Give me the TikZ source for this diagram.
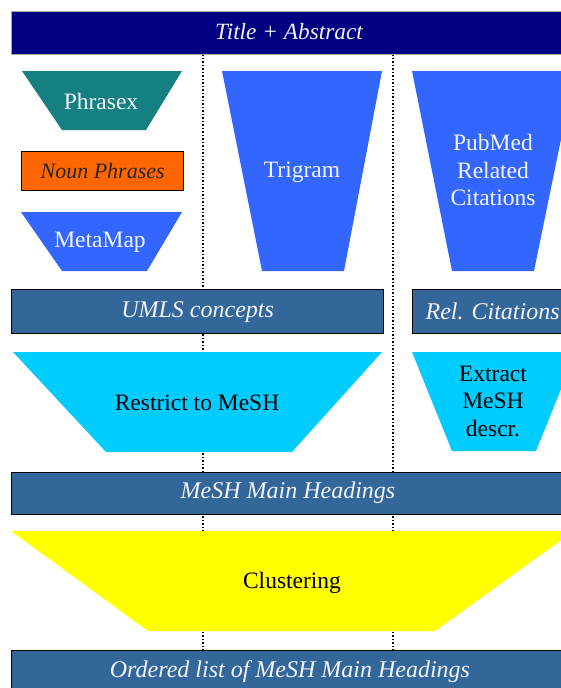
\documentclass[tikz,border=0pt]{standalone}
\usepackage{fontspec}
\setmainfont{Liberation Serif}
\newfontfamily\serifx{Liberation Serif}
\definecolor{navy}{HTML}{000080}
\definecolor{steel}{HTML}{336699}
\definecolor{tealx}{HTML}{168080}
\definecolor{orng}{HTML}{FF6600}
\definecolor{royal}{HTML}{3366FF}
\definecolor{sky}{HTML}{00CCFF}
\definecolor{yel}{HTML}{FFFF00}
\definecolor{paletext}{HTML}{F2F4FF}
\begin{document}
\begin{tikzpicture}[x=1pt,y=-1pt,
  bar/.style={draw=black, line width=1.3pt, fill=steel, text=paletext, inner sep=0pt,
    anchor=north west, font=\serifx\fontsize{24}{28}\selectfont\itshape},
  itl/.style={font=\serifx\fontsize{24}{28}\selectfont\itshape, text=paletext, inner sep=0pt},
  lbl/.style={font=\serifx\fontsize{23.5}{27.5}\selectfont, align=center, inner sep=0pt},
  sep/.style={line width=1.5pt, dotted, black}]
\clip (0,0) rectangle (561,688);
\fill[white] (0,0) rectangle (561,688);
% column separators
\coordinate (s1t) at (203,54); \coordinate (s1b) at (203,650);
\coordinate (s2t) at (393,54); \coordinate (s2b) at (393,650);
\draw[sep] (s1t) -- (s1b);
\draw[sep] (s2t) -- (s2b);
% title bar
\node[bar, draw=gray!70, fill=navy, minimum width=560pt, minimum height=43pt] (title) at (11,11) {};
\node[itl, font=\serifx\fontsize{23.3}{28}\selectfont\itshape] (titletxt) at (289,32) {Title + Abstract};
% left column
\fill[tealx] (22,71) -- (182,71) -- (146,130) -- (62,130) -- cycle;
\node[lbl, text=paletext] (phrasex) at (101,101) {Phrasex};
\node[draw=black, line width=1.3pt, fill=orng, anchor=north west, minimum width=162pt, minimum height=39pt, inner sep=0pt,
  font=\serifx\fontsize{22}{26}\selectfont\itshape, text=black!85] (noun) at (21,151) {Noun Phrases};
\fill[royal] (21,212) -- (182,212) -- (147,271) -- (62,271) -- cycle;
\node[lbl, text=paletext] (metamap) at (100,242) {MetaMap};
% middle column
\fill[royal] (222,71) -- (382,71) -- (344,271) -- (262,271) -- cycle;
\node[lbl, text=paletext] (trigram) at (302,172) {Trigram};
% right column
\fill[royal] (412,71) -- (575,71) -- (534,271) -- (452,271) -- cycle;
\node[lbl, text=paletext] (pubmed) at (493,170) {PubMed\\Related\\Citations};
% concept bars
\node[bar, minimum width=372pt, minimum height=44pt] (umls) at (11,289) {UMLS concepts};
\node[bar, minimum width=160pt, minimum height=44pt] (relcit) at (412,289) {Rel. Citations};
% restrict / extract
\fill[sky] (13,352) -- (382,352) -- (292,452) -- (106,452) -- cycle;
\node[lbl, text=black] (restrict) at (197,403) {Restrict to MeSH};
\fill[sky] (412,352) -- (576,352) -- (536,451) -- (452,451) -- cycle;
\node[lbl, text=black] (extract) at (493,401) {Extract\\MeSH\\descr.};
% mesh bar
\node[bar, minimum width=560pt, minimum height=42pt] (mesh) at (11,472) {};
\node[itl] (meshtxt) at (288,493) {MeSH Main Headings};
% clustering
\fill[yel] (11,531) -- (574,531) -- (435,631) -- (148,631) -- cycle;
\node[lbl, text=black] (cluster) at (292,583) {Clustering};
% ordered list
\node[bar, minimum width=560pt, minimum height=46pt] (ordered) at (11,650) {};
\node[itl] (orderedtxt) at (290,672) {Ordered list of MeSH Main Headings};
\end{tikzpicture}
\end{document}
